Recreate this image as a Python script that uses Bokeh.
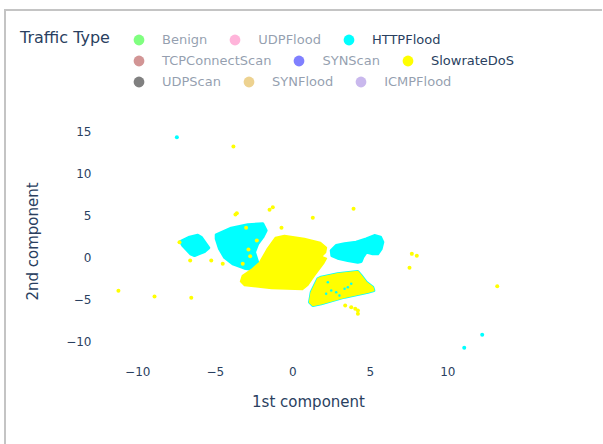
from bokeh.plotting import figure
from bokeh.layouts import column
from bokeh.models import Range1d, FixedTicker, Legend, LegendItem
from bokeh.embed import file_html
from bokeh.resources import INLINE

# ---------------- data ----------------
categories = ["Benign", "UDPFlood", "HTTPFlood",
              "TCPConnectScan", "SYNScan", "SlowrateDoS",
              "UDPScan", "SYNFlood", "ICMPFlood"]
cat_colors = ["#00FF00", "#FF69B4", "#00FFFF",
              "#A52A2A", "#0000FF", "#FFFF00",
              "#000000", "#DAA520", "#9370DB"]
shown_categories = ["HTTPFlood", "SlowrateDoS"]
legend_title = "Traffic Type"
legend_rows = [["Benign", "UDPFlood", "HTTPFlood"],
               ["TCPConnectScan", "SYNScan", "SlowrateDoS"],
               ["UDPScan", "SYNFlood", "ICMPFlood"]]

x_ticks = [-10, -5, 0, 5, 10]
y_ticks = [-10, -5, 0, 5, 10, 15]

# HTTPFlood: isolated points
http_x = [-7.48, 12.22, 11.06]
http_y = [14.29, -9.24, -10.79]
# HTTPFlood: outlines of the dense point clouds
http_cloud_x = [
    [-7.25, -6.66, -6.13, -5.91, -5.42, -5.70, -6.34, -6.60, -7.10],
    [-4.94, -3.97, -2.90, -1.94, -1.72, -1.94, -2.26, -2.47, -2.30, -2.21,
     -2.58, -3.12, -3.87, -4.41, -4.73, -4.94],
    [2.48, 2.80, 3.34, 4.09, 4.74, 5.27, 5.66, 5.81, 5.70, 5.48, 5.16, 4.74,
     4.52, 4.41, 4.19, 3.55, 2.90, 2.52],
    [1.61, 1.83, 2.90, 4.19, 4.41, 4.74, 5.16, 5.23, 4.84, 3.34, 1.83, 1.29,
     1.08, 1.19, 1.40],
]
http_cloud_y = [
    [1.87, 2.38, 2.62, 2.38, 1.12, 0.68, 0.20, 0.40, 1.39],
    [2.67, 3.45, 3.86, 3.98, 3.18, 2.38, 1.60, 0.60, -0.39, -0.99,
     -1.46, -1.31, -0.79, 0.00, 1.00, 2.19],
    [0.80, 1.39, 1.60, 1.79, 2.19, 2.58, 2.38, 1.79, 1.00, 0.40, 0.40, 0.60,
     0.00, -0.51, -0.60, -0.39, -0.12, 0.20],
    [-2.57, -2.38, -1.98, -1.70, -2.18, -2.98, -3.57, -3.96, -4.17, -4.76,
     -5.55, -5.75, -5.36, -4.17, -3.37],
]
# HTTPFlood points showing through the lower SlowrateDoS cloud
http_inner_x = [2.15, 2.48, 2.80, 3.34, 3.55, 3.01, 2.26, 3.77]
http_inner_y = [-4.36, -3.96, -4.17, -3.76, -3.57, -4.56, -2.98, -3.17]

# SlowrateDoS: isolated points
slow_x = [-3.83, -3.70, -3.61, -1.50, -1.29, 1.29, 3.92, -0.73, -3.01, -7.31,
          -2.32, -2.86, -2.75, -3.23, -6.62, -5.26, -4.52, -11.25, -8.92, -6.55,
          7.68, 8.00, 7.53, 13.19, 3.38, 3.77, 4.03, 4.20, 4.20]
slow_y = [13.18, 5.08, 5.24, 5.64, 5.95, 4.69, 5.76, 3.50, 3.50, 1.79,
          1.99, 0.92, 0.12, -0.79, -0.39, -0.39, -0.79, -4.00, -4.68, -4.83,
          0.40, 0.17, -1.26, -3.45, -5.75, -5.95, -6.15, -6.35, -6.74]
# SlowrateDoS: outlines of the dense point clouds
slow_cloud_x = [
    [-1.12, -0.54, 0.75, 1.79, 2.17, 2.11, 1.85, 2.17, 1.98, 1.40, 0.95, 0.63,
     -1.37, -3.12, -3.37, -3.25, -2.66, -2.15, -1.63],
    [1.61, 1.83, 2.90, 4.19, 4.41, 4.74, 5.16, 5.23, 4.84, 3.34, 1.83, 1.29,
     1.08, 1.19, 1.40],
]
slow_cloud_y = [
    [2.35, 2.58, 2.23, 1.75, 1.15, 0.56, 0.08, -0.15, -0.75, -2.18, -3.37, -3.85,
     -3.73, -3.37, -2.89, -2.18, -1.46, -0.63, 1.04],
    [-2.57, -2.38, -1.98, -1.70, -2.18, -2.98, -3.57, -3.96, -4.17, -4.76,
     -5.55, -5.75, -5.36, -4.17, -3.37],
]

FONT = "DejaVu Sans"
TXT = "#2a3f5f"
W = 596
NAN = float("nan")
color_of = dict(zip(categories, cat_colors))

# ---------------- legend strip (top) ----------------
top = figure(width=W, height=100, output_backend="svg", toolbar_location=None,
             x_range=Range1d(0, 1), y_range=Range1d(0, 1),
             x_axis_location=None, y_axis_location=None,
             min_border_left=0, min_border_right=0, min_border_top=0, min_border_bottom=0)
top.outline_line_color = None
top.grid.visible = False

# legend-only glyphs (no visible marks); hidden traces shown faded as in the reference
legend_glyphs = {}
for c in categories:
    r = top.scatter([NAN], [NAN], size=4, fill_color=color_of[c], line_color=None)
    r.visible = c in shown_categories
    legend_glyphs[c] = r
title_dummy = top.scatter([], [], size=0, fill_alpha=0, line_alpha=0)


def make_legend(items, loc, font_size, gw, gh, standoff, policy):
    return Legend(items=items, orientation="horizontal", location=loc,
                  glyph_width=gw, glyph_height=gh, label_standoff=standoff, spacing=14,
                  label_height=gh, padding=0, margin=0, border_line_color=None,
                  background_fill_alpha=0, label_text_font=FONT,
                  label_text_font_size=font_size, label_text_color=TXT,
                  click_policy=policy,
                  inactive_fill_color="white", inactive_fill_alpha=0.5)


row_locs = [(119, 58), (119, 37), (119, 16)]
for row, loc in zip(legend_rows, row_locs):
    top.add_layout(make_legend([LegendItem(label=c, renderers=[legend_glyphs[c]]) for c in row],
                               loc, "13px", 27, 27, 10, "hide"))
top.add_layout(make_legend([LegendItem(label=legend_title, renderers=[title_dummy])],
                           (14, 64), "16px", 0, 20, 0, "none"))

# ---------------- scatter chart ----------------
p = figure(width=W, height=333, output_backend="svg", toolbar_location=None,
           x_range=Range1d(-12.47, 14.497), y_range=Range1d(-12.30, 16.04),
           min_border_left=93, min_border_right=85,
           min_border_top=11, min_border_bottom=84)
p.outline_line_color = None
p.grid.visible = False

for f in (top, p):
    try:
        f.frame_align = False
    except AttributeError:
        pass

for ax, ticks, lab in ((p.xaxis, x_ticks, "1st component"), (p.yaxis, y_ticks, "2nd component")):
    ax.ticker = FixedTicker(ticks=ticks)
    ax.major_label_overrides = {t: (str(t).replace("-", "\u2212")) for t in ticks}
    ax.axis_line_color = None
    ax.major_tick_line_color = None
    ax.minor_tick_line_color = None
    ax.major_tick_in = 0
    ax.major_tick_out = 0
    ax.major_label_text_font = FONT
    ax.major_label_text_font_size = "12px"
    ax.major_label_text_color = TXT
    ax.axis_label = lab
    ax.axis_label_text_font = FONT
    ax.axis_label_text_font_size = "15px"
    ax.axis_label_text_font_style = "normal"
    ax.axis_label_text_color = TXT
p.xaxis.major_label_standoff = 6
p.xaxis.axis_label_standoff = 14
p.yaxis.major_label_standoff = 8
p.yaxis.axis_label_standoff = 21

# HTTPFlood (drawn first, below SlowrateDoS)
p.patches(http_cloud_x, http_cloud_y, fill_color=color_of["HTTPFlood"],
          line_color=color_of["HTTPFlood"], line_width=3, line_join="round")
p.scatter(http_x, http_y, size=4, fill_color=color_of["HTTPFlood"], line_color=None)
# SlowrateDoS
p.patches(slow_cloud_x, slow_cloud_y, fill_color=color_of["SlowrateDoS"],
          line_color=color_of["SlowrateDoS"], line_width=1.5, line_join="round")
p.scatter(slow_x, slow_y, size=4, fill_color=color_of["SlowrateDoS"], line_color=None)
p.scatter(http_inner_x, http_inner_y, size=2.5, fill_color=color_of["HTTPFlood"], line_color=None)

page = column(top, p, spacing=0)
page.styles = {"border-left": "2px solid #c4c4c4", "border-top": "2px solid #c4c4c4",
               "margin-left": "4px", "margin-top": "9px"}

open("out.html", "w").write(file_html(page, INLINE))
